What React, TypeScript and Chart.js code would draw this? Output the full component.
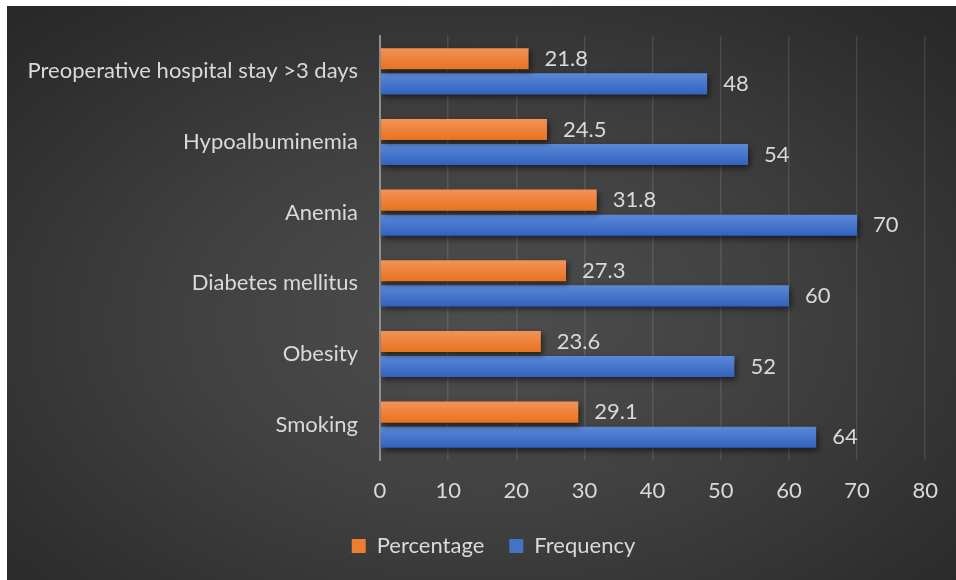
import React, { useEffect, useRef } from "react";
import { Chart, registerables } from "chart.js";

Chart.register(...registerables);

// Risk factors, listed top to bottom
const categories = [
  "Preoperative hospital stay >3 days",
  "Hypoalbuminemia",
  "Anemia",
  "Diabetes mellitus",
  "Obesity",
  "Smoking",
];
const percentage = [21.8, 24.5, 31.8, 27.3, 23.6, 29.1];
const frequency = [48, 54, 70, 60, 52, 64];
const xTicks = [0, 10, 20, 30, 40, 50, 60, 70, 80];

const FONT = "Lato, 'Open Sans', sans-serif";
const FONT_SIZE = 22;
const TEXT = "#d9d9d9";
const CAT_PCT = 0.71;
const BAR_PCT = 0.84;

// vertical gradient for each bar, from a lighter top edge to a deeper bottom edge
function barFill(top: string, bottom: string, datasetIndex: number) {
  return (ctx: any) => {
    const chart = ctx.chart;
    const y = chart.scales?.y;
    if (!chart.chartArea || !y || ctx.dataIndex === undefined) return bottom;
    const band = y.height / categories.length;
    const slot = (band * CAT_PCT) / 2;
    const bar = slot * BAR_PCT;
    const c = y.getPixelForValue(ctx.dataIndex) + (datasetIndex === 0 ? -slot / 2 : slot / 2);
    const g = chart.ctx.createLinearGradient(0, c - bar / 2, 0, c + bar / 2);
    g.addColorStop(0, top);
    g.addColorStop(1, bottom);
    return g;
  };
}

const barShadow = {
  id: "barShadow",
  beforeDatasetsDraw(chart: any) {
    const c = chart.ctx;
    c.save();
    c.shadowColor = "rgba(0,0,0,0.55)";
    c.shadowBlur = 6;
    c.shadowOffsetX = 2;
    c.shadowOffsetY = 3;
  },
  afterDatasetsDraw(chart: any) {
    chart.ctx.restore();
  },
};

const valueLabels = {
  id: "valueLabels",
  afterDatasetsDraw(chart: any) {
    const c = chart.ctx;
    c.save();
    c.font = `${FONT_SIZE}px ${FONT}`;
    c.fillStyle = TEXT;
    c.textAlign = "left";
    c.textBaseline = "middle";
    chart.data.datasets.forEach((ds: any, di: number) => {
      const meta = chart.getDatasetMeta(di);
      meta.data.forEach((el: any, i: number) => {
        c.fillText(String(ds.data[i]), el.x + 16, el.y);
      });
    });
    c.restore();
  },
};

// centre the legend a little right of the canvas middle
const legendShift = {
  id: "legendShift",
  afterLayout(chart: any) {
    const lg = chart.legend;
    if (lg) {
      lg.left += 27;
      lg.right += 27;
    }
  },
};

export default function App() {
  const ref = useRef<HTMLCanvasElement | null>(null);

  useEffect(() => {
    if (!ref.current) return;
    const chart = new Chart(ref.current, {
      type: "bar",
      data: {
        labels: categories,
        datasets: [
          {
            label: "Percentage",
            data: percentage,
            backgroundColor: barFill("#f39358", "#e8721f", 0),
            categoryPercentage: CAT_PCT,
            barPercentage: BAR_PCT,
          },
          {
            label: "Frequency",
            data: frequency,
            backgroundColor: barFill("#5b88d7", "#3262bf", 1),
            categoryPercentage: CAT_PCT,
            barPercentage: BAR_PCT,
          },
        ],
      },
      options: {
        indexAxis: "y",
        animation: false,
        responsive: false,
        layout: { padding: { top: 30, right: 30, bottom: 13, left: 0 } },
        plugins: {
          tooltip: { enabled: false },
          legend: {
            position: "bottom",
            labels: {
              color: TEXT,
              font: { family: FONT, size: FONT_SIZE },
              boxWidth: 14,
              boxHeight: 14,
              padding: 25,
              generateLabels: (ch: any) =>
                ch.data.datasets.map((ds: any, i: number) => ({
                  text: ds.label,
                  fillStyle: i === 0 ? "#ee7d31" : "#4472c4",
                  strokeStyle: "transparent",
                  lineWidth: 0,
                  fontColor: TEXT,
                  datasetIndex: i,
                  hidden: false,
                })),
            },
          },
        },
        scales: {
          x: {
            min: 0,
            max: 80,
            afterBuildTicks: (s: any) => {
              s.ticks = xTicks.map((v) => ({ value: v }));
            },
            afterFit: (s: any) => {
              s.height = 50;
            },
            ticks: {
              color: TEXT,
              font: { family: FONT, size: FONT_SIZE },
              padding: 18,
            },
            grid: {
              color: "rgba(255,255,255,0.11)",
              lineWidth: 1.5,
              drawTicks: false,
            },
            border: { display: false },
          },
          y: {
            afterFit: (s: any) => {
              s.width = 373;
              s.paddingTop = 0;
              s.paddingBottom = 0;
            },
            ticks: {
              color: TEXT,
              font: { family: FONT, size: FONT_SIZE },
              padding: 22,
            },
            grid: { display: false, drawTicks: false },
            border: { display: true, color: "#8f8f8f", width: 2 },
          },
        },
      },
      plugins: [barShadow, valueLabels, legendShift],
    });
    return () => chart.destroy();
  }, []);

  return (
    <div
      style={{
        position: "absolute",
        left: 7,
        top: 6,
        width: 949,
        height: 574,
        background:
          "radial-gradient(ellipse 75% 80% at 50% 55%, #4e4e4e 0%, #414141 40%, #2e2e2e 80%, #262626 100%)",
      }}
    >
      <canvas ref={ref} width={949} height={574} style={{ display: "block" }} />
    </div>
  );
}
